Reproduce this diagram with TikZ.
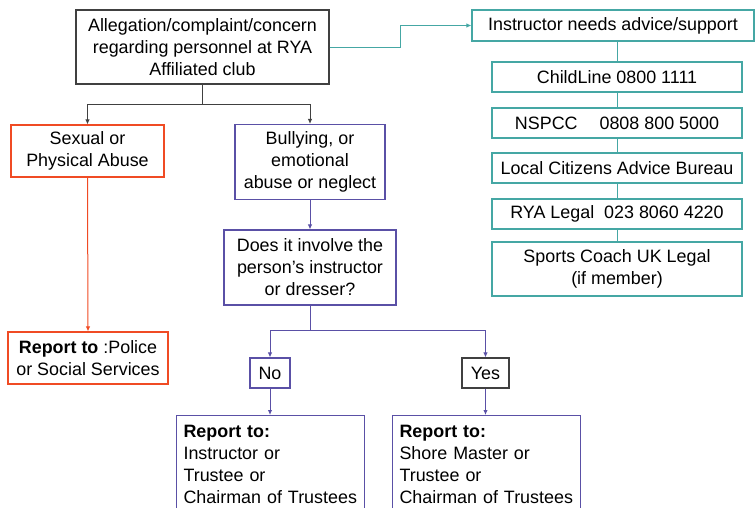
\documentclass[tikz,border=0pt]{standalone}
\usepackage{fontspec}
\setmainfont{Liberation Sans}
\usetikzlibrary{arrows.meta}

\definecolor{boxgray}{HTML}{404040}
\definecolor{abusered}{HTML}{F04B24}
\definecolor{flowblue}{HTML}{5A50A6}
\definecolor{helpteal}{HTML}{45A7A4}

\def\boxfont{\fontsize{17.9}{22}\selectfont}

\begin{document}
\begin{tikzpicture}[x=1pt,y=-1pt,>={Latex[length=5pt,width=4.5pt]},line width=1pt]
    \tikzstyle{box}=[draw, line width=1.1pt, inner sep=0pt, align=center, font=\boxfont]
    \tikzstyle{gray box}=[box, draw=boxgray];
    \tikzstyle{red box}=[box, draw=abusered];
    \tikzstyle{blue box}=[box, draw=flowblue];
    \tikzstyle{teal box}=[box, draw=helpteal, minimum width=250pt, minimum height=30pt];
    \tikzstyle{report box}=[box, draw=flowblue, anchor=north west, align=left,
        text width=174pt, inner xsep=7pt, inner ysep=10pt, minimum width=188pt];

    \useasboundingbox (0,0) rectangle (755,507);
    \clip (0,0) rectangle (755,507);

    % main branch
    \node[gray box, minimum width=253pt, minimum height=74pt] (Top) at (202.5,47)
        {Allegation/complaint/concern\\regarding personnel at RYA\\Affiliated club};
    \node[red box, minimum width=153pt, minimum height=52pt] (Abuse) at (87.5,151)
        {Sexual or\\Physical Abuse};
    \node[red box, minimum width=160pt, minimum height=52pt] (Police) at (88,358)
        {\textbf{Report to} :Police\\or Social Services};
    \node[blue box, minimum width=150pt, minimum height=75pt] (Bully) at (310,162)
        {Bullying, or\\emotional\\abuse or neglect};
    \node[blue box, minimum width=172pt, minimum height=75pt] (Ask) at (310,267.5)
        {Does it involve the\\person’s instructor\\or dresser?};
    \node[blue box, minimum width=40pt, minimum height=30pt] (No) at (270,373) {No};
    \node[gray box, minimum width=47pt, minimum height=30pt] (Yes) at (485.5,373) {Yes};
    \node[report box] (Rep-0) at (176,415)
        {\textbf{Report to:}\\Instructor or\\Trustee or\\Chairman of Trustees};
    \node[report box] (Rep-1) at (392,415)
        {\textbf{Report to:}\\Shore Master or\\Trustee or\\Chairman of Trustees};

    % advice column
    \node[box, draw=helpteal, minimum width=282pt, minimum height=31pt] (Adv) at (613,25.5)
        {Instructor needs advice/support};
    \foreach \name / \y / \txt in {1/77/{ChildLine 0800 1111},
                                  2/123/{NSPCC\hspace{17pt} 0808 800 5000},
                                  3/168/{Local Citizens Advice Bureau},
                                  4/214/{RYA Legal\hspace{5pt} 023 8060 4220}}
        \node[teal box] (H-\name) at (617,\y) {\txt};
    \node[teal box, minimum height=54pt] (H-5) at (617,269)
        {Sports Coach UK Legal\\(if member)};

    \coordinate (Split) at (202.5,104);
    \coordinate (Fork) at (310,330);
    \coordinate (Bend) at (400,47);

    \draw[boxgray, ->] (Top.south) -- (Split) -| (Abuse.north);
    \draw[boxgray, ->] (Split) -| (Bully.north);
    \draw[abusered, ->] (Abuse.south) -- (Police.north);
    \draw[flowblue, ->] (Bully.south) -- (Ask.north);
    \draw[flowblue] (Ask.south) -- (Fork);
    \draw[flowblue, ->] (Fork) -| (No.north);
    \draw[flowblue, ->] (Fork) -| (Yes.north);
    \draw[flowblue, ->] (No.south) -- (No.south |- Rep-0.north);
    \draw[flowblue, ->] (Yes.south) -- (Yes.south |- Rep-1.north);

    \draw[helpteal, ->] (Top.east) -- (Bend) |- (Adv.west);
    \draw[helpteal] (H-1.north) -- (H-1.north |- Adv.south);
    \foreach \source / \dest in {1/2,2/3,3/4,4/5}
        \draw[helpteal] (H-\source.south) -- (H-\dest.north);
\end{tikzpicture}
\end{document}
